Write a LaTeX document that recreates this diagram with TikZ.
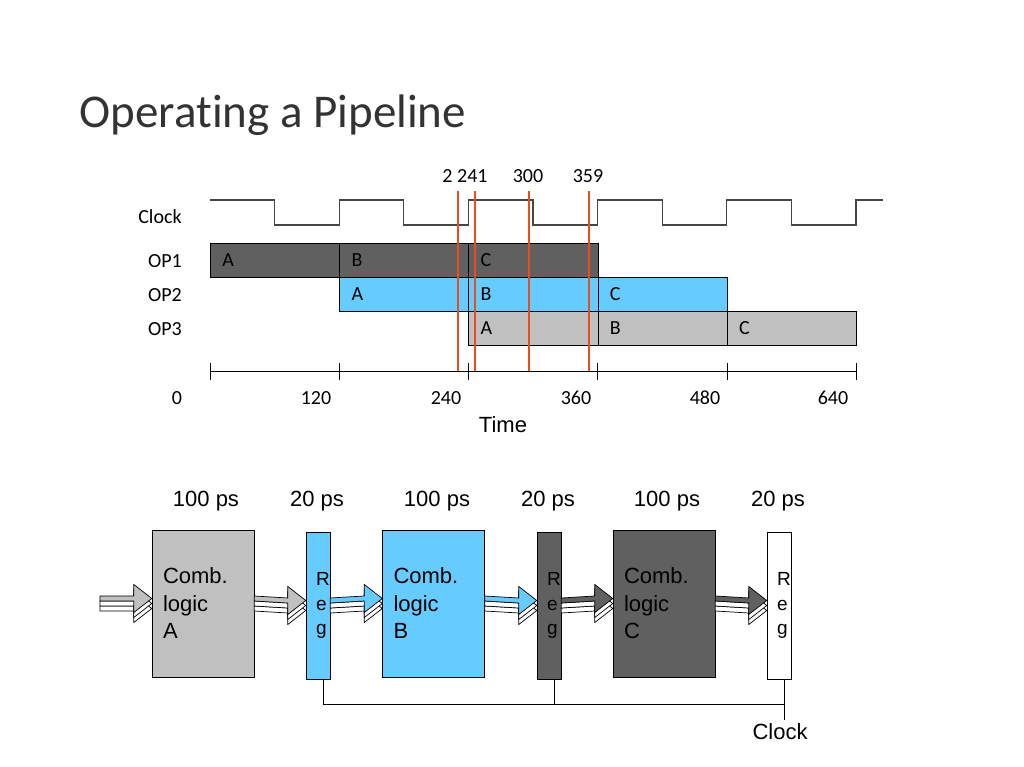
\documentclass[tikz,border=0pt]{standalone}
\usepackage{fontspec}
\setmainfont{Carlito}
\newfontfamily\arialfont{Liberation Sans}
\usetikzlibrary{calc}
\definecolor{darkgr}{RGB}{96,96,96}
\definecolor{lightgr}{RGB}{192,192,192}
\definecolor{skyblue}{RGB}{102,204,255}
\definecolor{markred}{RGB}{232,78,27}
\definecolor{wavegr}{RGB}{70,70,70}

% three stacked bus arrows, top one coloured
\newcommand{\busarrow}[3]{%
  \foreach \k/\c in {2/white,1/white,0/#3}{
    \filldraw[fill=\c, draw=black, line width=0.7]
      ($#1+(0,{(\k-1)*5-2.5})$) -- ($#2+(-18,{(\k-1)*5-2.5})$) -- ($#2+(-18,{(\k-1)*5-14})$)
      -- ($#2+(0,{(\k-1)*5})$) -- ($#2+(-18,{(\k-1)*5+14})$) -- ($#2+(-18,{(\k-1)*5+2.5})$)
      -- ($#1+(0,{(\k-1)*5+2.5})$) -- cycle;
  }}

\begin{document}
\begin{tikzpicture}[x=1pt, y=-1pt,
    lbl/.style = {font=\fontsize{20}{24}\selectfont},
    bar/.style = {draw, anchor=west, minimum width=129.2, minimum height=34, text width=105, align=left, inner xsep=12, font=\fontsize{20}{24}\selectfont},
    comb/.style = {draw, minimum width=102, minimum height=147, text width=80, align=left, inner sep=0, font=\arialfont\fontsize{22}{27.5}\selectfont},
    reg/.style = {draw, minimum width=24, minimum height=147, text width=4, align=left, inner sep=0, font=\arialfont\fontsize{19}{24.5}\selectfont},
    ps/.style = {font=\arialfont\fontsize{22}{26}\selectfont},
    marker/.style = {markred, line width=2.2}]

	\useasboundingbox (0,0) rectangle (1024,767);

	\node[anchor=west, text=black!80, font=\addfontfeatures{Ligatures={NoCommon}}\fontsize{47}{56}\selectfont] (title) at (76,115) {Operating a Pipeline};

	% clock waveform
	\node[lbl] (clock) at (160,217) {Clock};
	\draw[wavegr, line width=1.2] (210,200) foreach \i in {1,...,5} { -- ++(64.6,0) -- ++(0,25) -- ++(64.6,0) -- ++(0,-25) } -- ++(27,0);

	% operations
	\node[lbl] (op1) at (165,261) {OP1};
	\node[lbl] (op2) at (165,295) {OP2};
	\node[lbl] (op3) at (165,329) {OP3};
	\foreach \col/\y [count=\r] in {darkgr/260, skyblue/294, lightgr/328}
		\foreach \s [count=\j] in {A,B,C}
			\node[bar, fill=\col] (op\r\s) at ({210+(\r+\j-2)*129.2},\y) {\s};

	% time axis
	\draw[thick] (210,371) -- (856,371);
	\foreach \x in {210,339.2,468.4,597.6,726.8,856}
		\draw (\x,363) -- (\x,380);
	\foreach \x/\t in {177/0, 316/120, 446/240, 576/360, 705/480, 833/640}
		\node[lbl] (t\t) at (\x,398) {\t};
	\node[ps] (time) at (503,425) {Time};

	% sample instants
	\node[lbl] (m1) at (465,176) {2 241};
	\node[lbl] (m3) at (528,176) {300};
	\node[lbl] (m4) at (588,176) {359};
	\foreach \x in {458,475,529,589}
		\draw[marker] (\x,191) -- (\x,371);

	% pipeline hardware
	\node[comb, fill=lightgr] (cA) at (203,603.5) {Comb.\\logic\\A};
	\node[reg, fill=skyblue] (r1) at (318,605.5) {R\\e\\g};
	\node[comb, fill=skyblue] (cB) at (433.5,603.5) {Comb.\\logic\\B};
	\node[reg, fill=darkgr] (r2) at (549,605.5) {R\\e\\g};
	\node[comb, fill=darkgr] (cC) at (664,603.5) {Comb.\\logic\\C};
	\node[reg, fill=white] (r3) at (779,605.5) {R\\e\\g};

	\node[ps] (dA) at (206,501) {100 ps};
	\node[ps] (d1) at (317,501) {20 ps};
	\node[ps] (dB) at (437,501) {100 ps};
	\node[ps] (d2) at (548,501) {20 ps};
	\node[ps] (dC) at (667,501) {100 ps};
	\node[ps] (d3) at (778,501) {20 ps};

	\coordinate (in) at (100,603.5);
	\busarrow{(in)}{(cA.west)}{lightgr}
	\busarrow{(cA.east)}{(r1.west)}{lightgr}
	\busarrow{(r1.east)}{(cB.west)}{skyblue}
	\busarrow{(cB.east)}{(r2.west)}{skyblue}
	\busarrow{(r2.east)}{(cC.west)}{darkgr}
	\busarrow{(cC.east)}{(r3.west)}{darkgr}

	% clock distribution
	\node[ps] (clk) at (780,732) {Clock};
	\coordinate (tap1) at ($(r1.south)+(5,0)$);
	\coordinate (tap2) at ($(r2.south)+(5,0)$);
	\coordinate (tap3) at ($(r3.south)+(5,0)$);
	\draw[thick] (tap1) -- (tap1 |- 0,704) -- (tap3 |- 0,704);
	\draw[thick] (tap2) -- (tap2 |- 0,704);
	\draw[thick] (tap3) -- (tap3 |- clk.north);
\end{tikzpicture}
\end{document}
